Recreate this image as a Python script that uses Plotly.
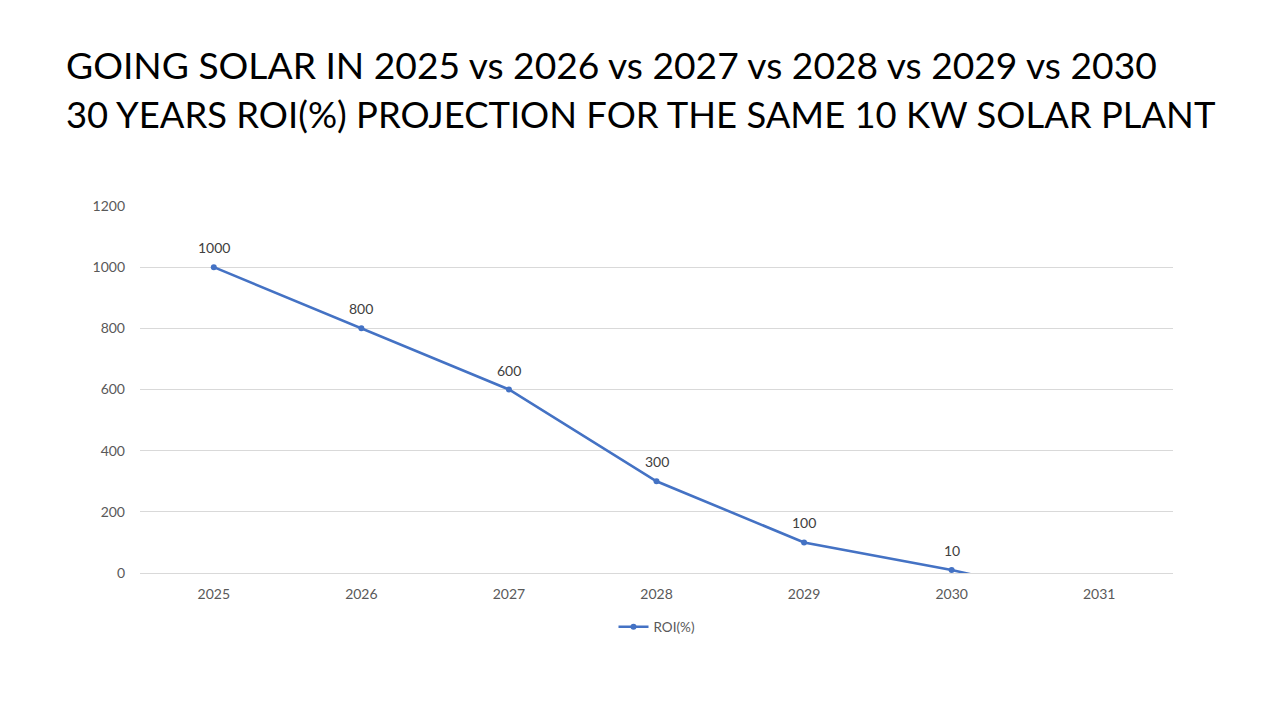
import plotly.graph_objects as go

years = ["2025", "2026", "2027", "2028", "2029", "2030", "2031"]
roi = [1000, 800, 600, 300, 100, 10, -100]
labels = ["1000", "800", "600", "300", "100", "10", "-100"]
title_lines = [
    "GOING SOLAR IN 2025 vs 2026 vs 2027 vs 2028 vs 2029 vs 2030",
    "30 YEARS ROI(%) PROJECTION FOR THE SAME 10 KW SOLAR PLANT",
]
y_min, y_max = 0, 1200

FONT = "Lato, Liberation Sans, sans-serif"
W, H = 1280, 720
L, R, T, B = 132, 115, 198, 155
PW, PH = W - L - R, H - T - B

fig = go.Figure()
fig.add_trace(go.Scatter(
    x=years, y=roi, mode="lines+markers", name="ROI(%)",
    line=dict(color="#4472C4", width=2.6),
    marker=dict(color="#4472C4", size=6),
    cliponaxis=True,
))

for i, (yv, lab) in enumerate(zip(roi, labels)):
    if y_min <= yv <= y_max:
        fig.add_annotation(x=i, y=yv, xref="x", yref="y", text=lab, showarrow=False,
                           yanchor="bottom", yshift=9,
                           font=dict(family=FONT, size=14, color="#404040"))

fig.update_layout(
    width=W, height=H,
    paper_bgcolor="white", plot_bgcolor="white",
    margin=dict(l=L, r=R, t=T, b=B),
    font=dict(family=FONT, color="#595959", size=14),
    showlegend=True,
    legend=dict(orientation="h", x=0.5, xanchor="center", y=-0.105, yanchor="top",
                font=dict(size=13.5, color="#595959")),
    xaxis=dict(type="category", range=[-0.5, 6.5], showgrid=False, showline=True,
               linecolor="#D9D9D9", linewidth=1, ticks="", ticklabelstandoff=8,
               tickfont=dict(size=14, color="#595959")),
    yaxis=dict(range=[y_min, y_max], dtick=200, showgrid=True, gridcolor="#D9D9D9", gridwidth=1,
               zeroline=False, showline=False, ticks="", ticklabelstandoff=14,
               tickfont=dict(size=14, color="#595959")),
)

for t, yp, fs in zip(title_lines, [56.5, 105.5], [37.2, 36.4]):
    fig.add_annotation(text=t, xref="paper", yref="paper",
                       x=(56 - L) / PW, y=(H - B - yp) / PH,
                       xanchor="left", yanchor="middle", showarrow=False,
                       font=dict(family=FONT, size=fs, color="#000000"))

fig.write_html("out.html")
